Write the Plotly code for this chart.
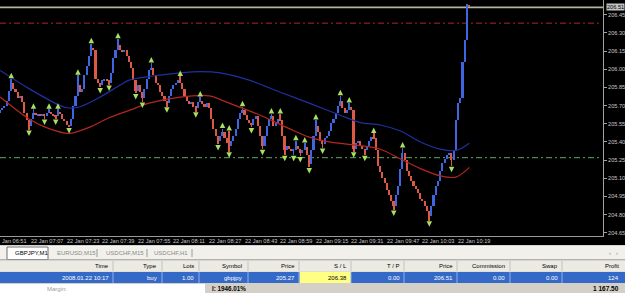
import plotly.graph_objects as go

W, H = 625, 293

# ---------------- data (GBPJPY M1, one bar per minute from 22 Jan 06:54) ----------------
closes = [
    205.66, 205.68, 205.70, 205.74, 205.82, 205.89, 205.84, 205.81, 205.76, 205.78,
    205.73, 205.64, 205.58, 205.53, 205.59, 205.64, 205.62, 205.63, 205.61, 205.63,
    205.61, 205.64, 205.65, 205.63, 205.62, 205.61, 205.65, 205.63, 205.59, 205.57,
    205.54, 205.53, 205.59, 205.70, 205.78, 205.87, 205.81, 205.84, 205.95, 206.03,
    206.11, 206.17, 206.16, 205.92, 205.89, 205.87, 205.91, 205.92, 205.91, 205.89,
    205.97, 206.09, 206.16, 206.20, 206.16, 206.14, 206.16, 206.11, 206.06, 206.01,
    205.91, 205.82, 205.87, 205.81, 205.76, 205.84, 205.92, 205.99, 206.01, 205.95,
    205.89, 205.87, 205.81, 205.78, 205.74, 205.72, 205.78, 205.84, 205.87, 205.89,
    205.91, 205.89, 205.84, 205.78, 205.74, 205.71, 205.73, 205.69, 205.68, 205.73,
    205.74, 205.71, 205.69, 205.72, 205.68, 205.59, 205.51, 205.45, 205.41, 205.45,
    205.48, 205.43, 205.39, 205.37, 205.41, 205.45, 205.51, 205.59, 205.64, 205.66,
    205.62, 205.58, 205.56, 205.54, 205.59, 205.61, 205.53, 205.45, 205.37, 205.45,
    205.53, 205.59, 205.61, 205.53, 205.56, 205.59, 205.58, 205.45, 205.33, 205.37,
    205.34, 205.33, 205.33, 205.37, 205.34, 205.31, 205.33, 205.36, 205.29, 205.22,
    205.33, 205.45, 205.53, 205.48, 205.41, 205.38, 205.43, 205.45, 205.49, 205.56,
    205.59, 205.64, 205.70, 205.74, 205.68, 205.64, 205.66, 205.69, 205.66, 205.34,
    205.39, 205.41, 205.37, 205.34, 205.33, 205.37, 205.41, 205.44, 205.43, 205.33,
    205.20, 205.15, 205.10, 205.06, 205.00, 204.96, 204.91, 204.87, 204.96, 205.04,
    205.18, 205.31, 205.25, 205.16, 205.12, 205.08, 205.04, 205.01, 204.98, 204.93,
    204.91, 204.87, 204.83, 204.79, 204.87, 204.96, 205.04, 205.08, 205.16, 205.23,
    205.26, 205.29, 205.31, 205.25, 205.33, 205.58, 205.72, 205.76, 206.06, 206.24,
    206.53, 206.51,
]
first_open = 205.64

frac_high_idx = [5, 15, 22, 26, 35, 41, 53, 68, 81, 90, 100, 103, 109, 122, 126, 133, 137, 142, 153, 157, 168, 181]
frac_high_val = [205.92, 205.67, 205.67, 205.67, 205.95, 206.21, 206.25, 206.05, 205.94, 205.77, 205.51, 205.49,
                 205.69, 205.63, 205.63, 205.41, 205.39, 205.58, 205.78, 205.72, 205.47, 205.35]
frac_low_idx = [13, 20, 25, 31, 45, 49, 61, 64, 75, 88, 98, 103, 113, 118, 128, 132, 135, 139, 145, 159, 164, 177, 193, 203]
frac_low_val = [205.50, 205.59, 205.59, 205.52, 205.85, 205.87, 205.80, 205.73, 205.69, 205.65, 205.38, 205.32,
                205.52, 205.34, 205.29, 205.29, 205.28, 205.19, 205.35, 205.32, 205.29, 204.84, 204.75, 205.20]

ma_slow_idx = [0, 13, 27, 31, 36, 45, 54, 58, 67, 81, 90, 99, 112, 126, 139, 153, 162, 171, 180, 189, 198, 205, 211]
ma_slow_val = [205.99, 205.84, 205.70, 205.68, 205.69, 205.77, 205.87, 205.91, 205.94, 205.97, 205.98, 205.97,
               205.91, 205.81, 205.72, 205.62, 205.56, 205.54, 205.49, 205.40, 205.34, 205.33, 205.39]
ma_fast_idx = [0, 13, 22, 31, 40, 49, 58, 67, 81, 94, 103, 117, 130, 139, 148, 162, 171, 180, 189, 198, 205, 211]
ma_fast_val = [205.77, 205.59, 205.51, 205.47, 205.52, 205.60, 205.66, 205.72, 205.77, 205.78, 205.72, 205.62,
               205.51, 205.44, 205.40, 205.37, 205.34, 205.26, 205.18, 205.12, 205.11, 205.19]

time_tick_idx = [-3, 13, 29, 45, 61, 77, 93, 109, 125, 141, 157, 173, 189, 205]
time_tick_labels = ["Jan 06:51", "22 Jan 07:07", "22 Jan 07:23", "22 Jan 07:39", "22 Jan 07:55",
                    "22 Jan 08:11", "22 Jan 08:27", "22 Jan 08:43", "22 Jan 08:59", "22 Jan 09:15",
                    "22 Jan 09:31", "22 Jan 09:47", "22 Jan 10:03", "22 Jan 10:19"]
price_ticks = [206.45, 206.30, 206.15, 206.00, 205.85, 205.70, 205.55, 205.40, 205.25, 205.10, 204.95, 204.80, 204.65]

bid_price = 206.51
stop_loss = 206.38
open_price = 205.27

tabs = ["GBPJPY,M1", "EURUSD,M15", "USDCHF,M15", "USDCHF,H1"]
col_names = ["Time", "Type", "Lots", "Symbol", "Price", "S / L", "T / P", "Price", "Commission", "Swap", "Profit"]
col_values = ["2008.01.22 10:17", "buy", "1.00", "gbpjpy", "205.27", "206.38", "0.00", "206.51", "0.00", "0.00", "124"]
margin_level = "1946.01%"
total_profit = "1 167.50"

# ---------------- geometry ----------------
X_RANGE = [-0.05, 271.1]
Y_RANGE = [204.624, 206.571]
PLOT_R = 603      # px
PLOT_B = 236      # px

def xp(px):
    return px / W

def yp(py):
    return 1 - py / H

def idx_to_px(i):
    return (i - X_RANGE[0]) / (X_RANGE[1] - X_RANGE[0]) * PLOT_R

UP = "#3d66e0"
DN = "#de5846"

n = len(closes)
idx = list(range(n))
opens = [first_open] + closes[:-1]
highs = [max(o, c) for o, c in zip(opens, closes)]
lows = [min(o, c) for o, c in zip(opens, closes)]
for i, v in zip(frac_high_idx, frac_high_val):
    highs[i] = max(highs[i], v)
for i, v in zip(frac_low_idx, frac_low_val):
    lows[i] = min(lows[i], v)
highs[210] = 206.54

colors = [UP if c >= o else DN for o, c in zip(opens, closes)]
body_base = [min(o, c) for o, c in zip(opens, closes)]
body_h = [max(abs(c - o), 0.006) for o, c in zip(opens, closes)]
wick_h = [h - l for h, l in zip(highs, lows)]

fig = go.Figure()

fig.add_trace(go.Scatter(x=ma_slow_idx, y=ma_slow_val, mode="lines",
                         line=dict(color="#2030a0", width=1.2, shape="spline", smoothing=0.9),
                         hoverinfo="skip", showlegend=False))
fig.add_trace(go.Scatter(x=ma_fast_idx, y=ma_fast_val, mode="lines",
                         line=dict(color="#b02820", width=1.2, shape="spline", smoothing=0.9),
                         hoverinfo="skip", showlegend=False))

fig.add_trace(go.Bar(x=idx, y=wick_h, base=lows, width=0.3, marker=dict(color=colors, line=dict(width=0)),
                     hoverinfo="skip", showlegend=False))
fig.add_trace(go.Bar(x=idx, y=body_h, base=body_base, width=0.7, marker=dict(color=colors, line=dict(width=0)),
                     hoverinfo="skip", showlegend=False))

fig.add_trace(go.Scatter(x=frac_high_idx, y=[v + 0.05 for v in frac_high_val], mode="markers",
                         marker=dict(symbol="arrow-up", size=5.5, color="#a8e060", line=dict(width=0)),
                         hoverinfo="skip", showlegend=False))
fig.add_trace(go.Scatter(x=frac_low_idx, y=[v - 0.05 for v in frac_low_val], mode="markers",
                         marker=dict(symbol="arrow-down", size=5.5, color="#a8e060", line=dict(width=0)),
                         hoverinfo="skip", showlegend=False))

shapes = []
shapes.append(dict(type="line", xref="paper", yref="y", x0=0, x1=xp(PLOT_R), y0=bid_price, y1=bid_price,
                   line=dict(color="#b4b49a", width=1.6), layer="below"))
shapes.append(dict(type="line", xref="paper", yref="y", x0=0, x1=xp(PLOT_R - 4), y0=stop_loss, y1=stop_loss,
                   line=dict(color="#a82a22", width=1, dash="6px,3px,2px,3px"), layer="below"))
shapes.append(dict(type="line", xref="paper", yref="y", x0=0, x1=xp(PLOT_R - 4), y0=open_price, y1=open_price,
                   line=dict(color="#5fa85f", width=1, dash="6px,3px,2px,3px"), layer="below"))

def rect(x0, y0, x1, y1, fill, line=None):
    d = dict(type="rect", xref="paper", yref="paper", x0=xp(x0), x1=xp(x1), y0=yp(y1), y1=yp(y0),
             fillcolor=fill, line=dict(width=0), layer="above")
    if line:
        d["line"] = dict(color=line, width=1)
    return d

def vline(x, y0, y1, color):
    return dict(type="line", xref="paper", yref="paper", x0=xp(x), x1=xp(x), y0=yp(y0), y1=yp(y1),
                line=dict(color=color, width=1), layer="above")

def hline(y, x0, x1, color):
    return dict(type="line", xref="paper", yref="paper", x0=xp(x0), x1=xp(x1), y0=yp(y), y1=yp(y),
                line=dict(color=color, width=1), layer="above")

shapes.append(rect(0, 245.5, W, H, "#d4d0c8"))
shapes.append(rect(0, 246, W, 259.5, "#f1f0ea"))
shapes.append(hline(245.8, 0, W, "#ffffff"))
shapes.append(rect(7, 247, 48, 259.5, "#ffffff", line="#707070"))
shapes.append(rect(0, 260, W, 271.5, "#ecebe3"))
shapes.append(hline(259.8, 0, W, "#a0a0a0"))
shapes.append(rect(0, 272, W, 283, "#3569c8"))
seps = [113, 162, 199, 248, 299, 351, 404, 457, 510, 562]
shapes.append(rect(299.5, 272, 351, 283, "#ffff84"))
for s in seps:
    shapes.append(vline(s, 261, 271, "#c4c2b8"))
    shapes.append(vline(s, 272, 283, "#8fb0ea"))
shapes.append(rect(0, 283.5, W, H, "#d4d0c8"))
shapes.append(rect(0, 284, 205, H, "#ffffff"))
for s in [97, 147, 192]:
    shapes.append(vline(s, 249, 257, "#9a9a9a"))

annotations = []
FONT = "Liberation Sans, Arial, sans-serif"

for i, lab in zip(time_tick_idx, time_tick_labels):
    x_px = max(idx_to_px(i), 0) if i >= 0 else 0
    annotations.append(dict(x=xp(x_px), y=yp(241), xref="paper", yref="paper", text=lab,
                            showarrow=False, xanchor="left", yanchor="middle",
                            font=dict(family=FONT, size=5.6, color="#c8c8c8")))

annotations.append(dict(x=xp(606), y=bid_price, xref="paper", yref="y", text="%.2f" % bid_price,
                        showarrow=False, xanchor="left", yanchor="middle", bgcolor="#c4c4c4",
                        borderpad=0, font=dict(family=FONT, size=5.6, color="#000000")))

tab_x = [13, 55, 104, 152]
for k, (t, x) in enumerate(zip(tabs, tab_x)):
    annotations.append(dict(x=xp(x), y=yp(253), xref="paper", yref="paper", text=t, showarrow=False,
                            xanchor="left", yanchor="middle",
                            font=dict(family=FONT, size=6, color="#000000" if k == 0 else "#8a8a8a")))
annotations.append(dict(x=xp(613), y=yp(252.5), xref="paper", yref="paper", text="\u2039   \u203a",
                        showarrow=False, xanchor="center", yanchor="middle",
                        font=dict(family=FONT, size=6, color="#909090")))

col_right = [111, 159, 196, 244, 297, 349, 402, 455, 507, 560, 621]
for name, val, xr in zip(col_names, col_values, col_right):
    annotations.append(dict(x=xp(xr), y=yp(266), xref="paper", yref="paper", text=name, showarrow=False,
                            xanchor="right", yanchor="middle", font=dict(family=FONT, size=6, color="#000000")))
    annotations.append(dict(x=xp(xr), y=yp(277.5), xref="paper", yref="paper", text=val, showarrow=False,
                            xanchor="right", yanchor="middle",
                            font=dict(family=FONT, size=6, color="#000000" if name == "S / L" else "#ffffff")))

annotations.append(dict(x=xp(45), y=yp(288.5), xref="paper", yref="paper", text="Margin:", showarrow=False,
                        xanchor="left", yanchor="middle", font=dict(family=FONT, size=6, color="#9a9a9a")))
annotations.append(dict(x=xp(248), y=yp(288.5), xref="paper", yref="paper", text="<b>l: " + margin_level + "</b>",
                        showarrow=False, xanchor="right", yanchor="middle",
                        font=dict(family=FONT, size=6.3, color="#000000")))
annotations.append(dict(x=xp(621), y=yp(288.5), xref="paper", yref="paper", text="<b>" + total_profit + "</b>",
                        showarrow=False, xanchor="right", yanchor="middle",
                        font=dict(family=FONT, size=6.5, color="#000000")))

fig.update_layout(
    width=W, height=H, margin=dict(l=0, r=0, t=0, b=0),
    paper_bgcolor="#000000", plot_bgcolor="#000000",
    barmode="overlay", bargap=0, showlegend=False,
    shapes=shapes, annotations=annotations,
    xaxis=dict(domain=[0, xp(PLOT_R)], range=X_RANGE, showgrid=False, zeroline=False,
               showticklabels=False, ticks="", showline=True, linecolor="#9a9a9a", linewidth=1,
               fixedrange=True),
    yaxis=dict(domain=[yp(PLOT_B), 1], range=Y_RANGE, side="right", showgrid=False, zeroline=False,
               tickvals=price_ticks, ticktext=["%.2f" % v for v in price_ticks],
               ticks="outside", ticklen=3, tickcolor="#a0a0a0",
               tickfont=dict(family=FONT, size=5.6, color="#c8c8c8"),
               showline=True, linecolor="#a0a0a0", linewidth=1, fixedrange=True),
)

fig.write_html("out.html", config={"displayModeBar": False})
